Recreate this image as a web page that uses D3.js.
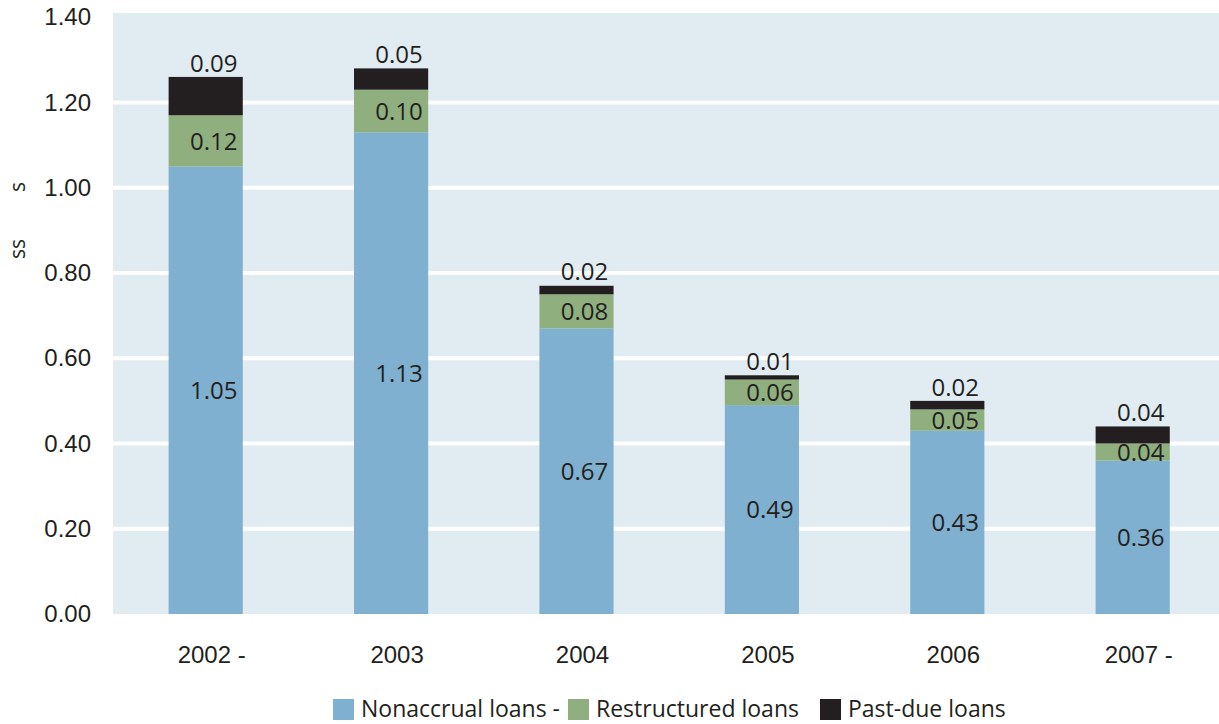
<!DOCTYPE html>
<html>
<head>
<meta charset="utf-8">
<script src="https://cdn.jsdelivr.net/npm/d3@7"></script>
<style>
  html, body { margin: 0; padding: 0; background: #ffffff; }
  svg { display: block; font-family: "Open Sans", "Noto Sans", sans-serif; }
</style>
</head>
<body>
<svg id="chart" width="1219" height="724"></svg>
<script>
// Loan quality by year, stacked by loan type
const years = ["2002 -", "2003", "2004", "2005", "2006", "2007 -"];
const nonaccrual = [1.05, 1.13, 0.67, 0.49, 0.43, 0.36];
const restructured = [0.12, 0.10, 0.08, 0.06, 0.05, 0.04];
const pastDue = [0.09, 0.05, 0.02, 0.01, 0.02, 0.04];
const seriesNames = ["Nonaccrual loans -", "Restructured loans", "Past-due loans"];
const yTicks = [0, 0.2, 0.4, 0.6, 0.8, 1.0, 1.2, 1.4];

const colors = ["#7fb0cf", "#8fb07e", "#231f20"];
const textColor = "#231f20";

const svg = d3.select("#chart");
const W = 1219;
const plot = { left: 113, top: 13, bottom: 614 };

const x = d3.scaleBand()
  .domain(years)
  .range([113, 1225.4])
  .paddingInner(0.6)
  .paddingOuter(0.3);

const y = d3.scaleLinear()
  .domain([0, 1.4])
  .range([614, 17.25]);

// panel background
svg.append("rect")
  .attr("x", plot.left)
  .attr("y", plot.top)
  .attr("width", W - plot.left)
  .attr("height", plot.bottom - plot.top)
  .attr("fill", "#e1ebf2");

// horizontal grid lines
svg.append("g")
  .selectAll("line")
  .data(yTicks.filter(d => d > 0 && d < 1.4))
  .join("line")
  .attr("x1", plot.left)
  .attr("x2", W)
  .attr("y1", d => y(d))
  .attr("y2", d => y(d))
  .attr("stroke", "#ffffff")
  .attr("stroke-width", 4);

// y axis
const yAxis = svg.append("g")
  .attr("transform", `translate(${plot.left},0)`)
  .call(d3.axisLeft(y).tickValues(yTicks).tickFormat(d3.format(".2f")).tickSize(0).tickPadding(22));
yAxis.select(".domain").remove();
yAxis.selectAll("text")
  .attr("fill", textColor)
  .style("font-size", "24px");

// x axis
const xAxis = svg.append("g")
  .attr("transform", `translate(0,${plot.bottom})`)
  .call(d3.axisBottom(x).tickSize(0).tickPadding(32));
xAxis.select(".domain").remove();
xAxis.selectAll("text")
  .attr("fill", textColor)
  .attr("dx", "6px")
  .style("font-size", "24px");

// stacked data
const rows = years.map((yr, i) => ({
  year: yr,
  s0: nonaccrual[i],
  s1: restructured[i],
  s2: pastDue[i]
}));
const stack = d3.stack().keys(["s0", "s1", "s2"]);
const layers = stack(rows);

const layerG = svg.append("g")
  .selectAll("g")
  .data(layers)
  .join("g")
  .attr("fill", (d, i) => colors[i]);

layerG.selectAll("rect")
  .data(d => d)
  .join("rect")
  .attr("x", d => x(d.data.year))
  .attr("width", x.bandwidth())
  .attr("y", d => y(d[1]))
  .attr("height", d => y(d[0]) - y(d[1]));

// value labels: inside the lower segments, above the top segment
const labelG = svg.append("g")
  .attr("fill", textColor)
  .style("font-size", "24px")
  .attr("text-anchor", "middle");

layers.forEach((layer, li) => {
  labelG.selectAll(null)
    .data(layer)
    .join("text")
    .attr("x", d => x(d.data.year) + x.bandwidth() / 2 + 8)
    .attr("y", d => li === 2 ? y(d[1]) - 14 : (y(d[0]) + y(d[1])) / 2)
    .attr("dy", "0.36em")
    .text(d => d3.format(".2f")(d[1] - d[0]));
});

// axis title
const titleG = svg.append("g").attr("fill", textColor).style("font-size", "21px").attr("text-anchor", "middle");
titleG.append("text")
  .attr("transform", "translate(17,187) rotate(-90)")
  .attr("dy", "0.36em")
  .text("s");
titleG.append("text")
  .attr("transform", "translate(17,249) rotate(-90)")
  .attr("dy", "0.36em")
  .text("ss");

// legend
const legendX = [333, 568, 820];
const legend = svg.append("g");
seriesNames.forEach((name, i) => {
  legend.append("rect")
    .attr("x", legendX[i])
    .attr("y", 699)
    .attr("width", 21)
    .attr("height", 21)
    .attr("fill", colors[i]);
  legend.append("text")
    .attr("x", legendX[i] + 28)
    .attr("y", 717)
    .attr("fill", textColor)
    .style("font-size", "23px")
    .text(name);
});
</script>
</body>
</html>
